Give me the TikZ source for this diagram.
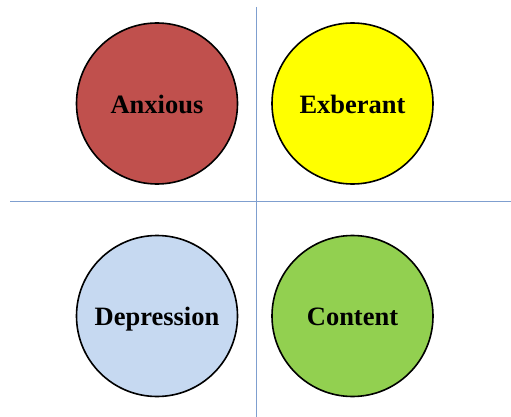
\documentclass[tikz,border=0pt]{standalone}
\usepackage{fontspec}
\setmainfont{Liberation Serif}
\begin{document}
\begin{tikzpicture}[x=1pt,y=-1pt,
  mood/.style={circle,draw=black,line width=1.6pt,minimum size=161pt,inner sep=0pt,
    text height=25pt,text depth=5.4pt,
    font=\fontsize{26.5}{30}\selectfont\bfseries},
  axis/.style={draw=axisblue,line width=1pt}]
\definecolor{axisblue}{HTML}{7F9FCF}
\definecolor{anxred}{HTML}{C0504D}
\definecolor{exyellow}{HTML}{FFFF00}
\definecolor{deblue}{HTML}{C6D9F1}
\definecolor{cogreen}{HTML}{92D050}
\useasboundingbox (0,0) rectangle (511,417);
% quadrant axes
\coordinate (vtop) at (256,7);
\coordinate (vbot) at (256,417);
\coordinate (hleft) at (10,201.5);
\coordinate (hright) at (511,201.5);
\draw[axis] (vtop) -- (vbot);
\draw[axis] (hleft) -- (hright);
% the four moods
\node[mood,fill=anxred] (anx) at (157,103.5) {Anxious};
\node[mood,fill=exyellow] (exb) at (352.5,103.5) {Exberant};
\node[mood,fill=deblue] (dep) at (157,316) {Depression};
\node[mood,fill=cogreen] (con) at (352.5,316) {Content};
\end{tikzpicture}
\end{document}
